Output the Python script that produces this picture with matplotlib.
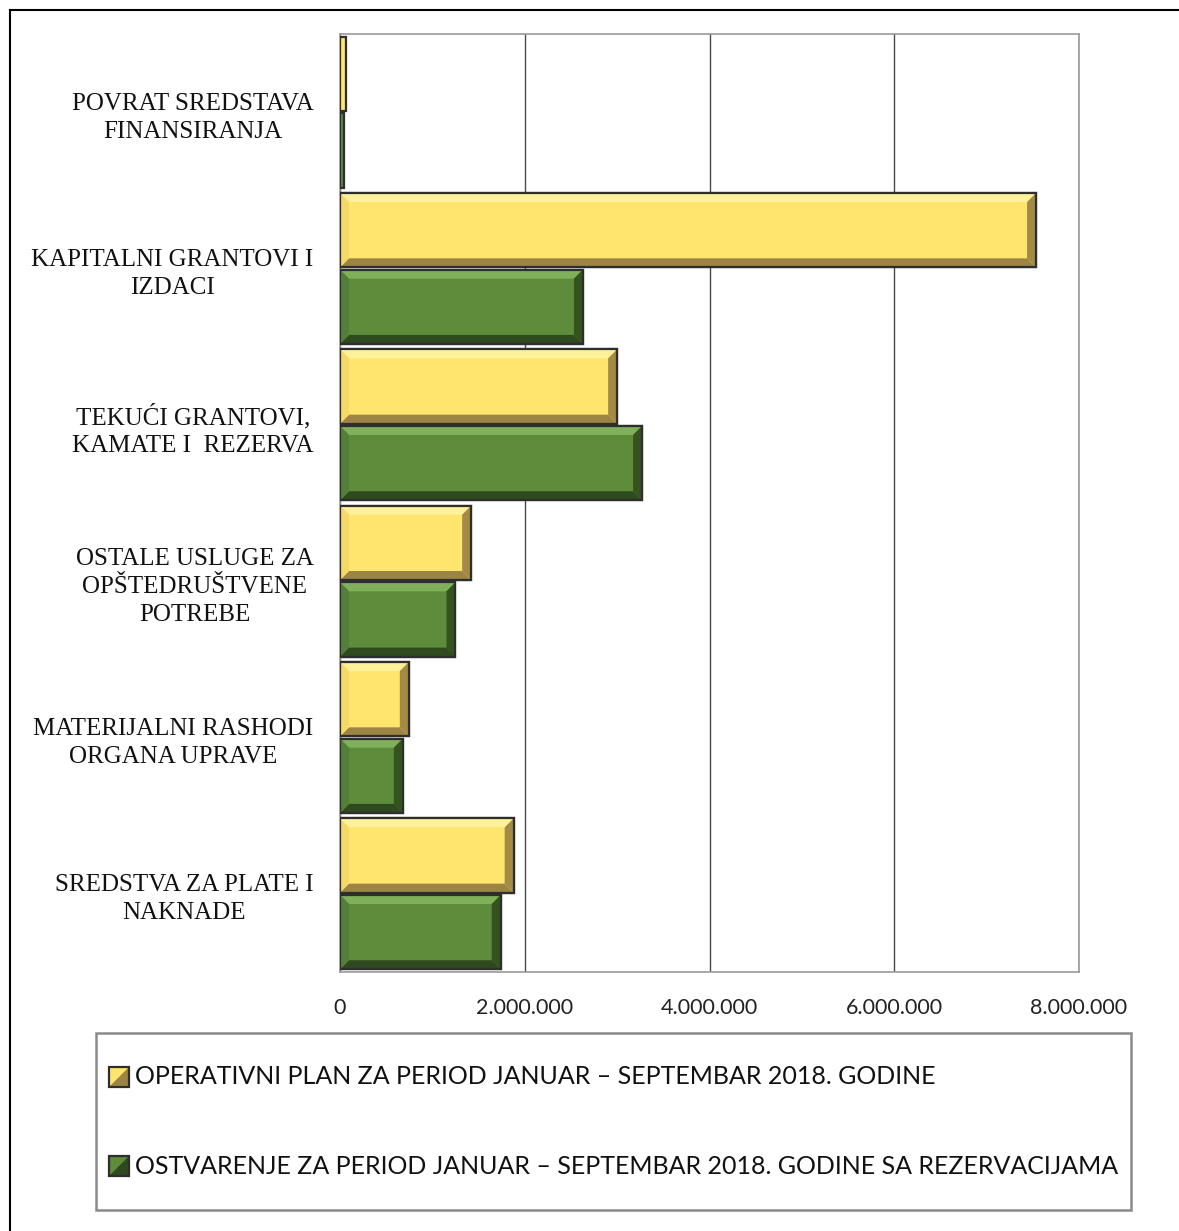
import numpy as np
import matplotlib
matplotlib.use("Agg")
import matplotlib.pyplot as plt
from matplotlib.patches import Polygon, Rectangle
from matplotlib.lines import Line2D
from matplotlib.ticker import FuncFormatter

# categories listed bottom -> top
categories = [
    "SREDSTVA ZA PLATE I\nNAKNADE",
    "MATERIJALNI RASHODI\nORGANA UPRAVE",
    "OSTALE USLUGE ZA\nOPŠTEDRUŠTVENE\nPOTREBE",
    "TEKUĆI GRANTOVI,\nKAMATE I  REZERVA",
    "KAPITALNI GRANTOVI I\nIZDACI",
    "POVRAT SREDSTAVA\nFINANSIRANJA",
]
plan = [1880000, 745000, 1420000, 3000000, 7535000, 65000]
ostvarenje = [1740000, 680000, 1250000, 3270000, 2630000, 40000]

label_plan = "OPERATIVNI PLAN ZA PERIOD JANUAR – SEPTEMBAR 2018. GODINE"
label_ostv = "OSTVARENJE ZA PERIOD JANUAR – SEPTEMBAR 2018. GODINE SA REZERVACIJAMA"
x_ticks = [0, 2000000, 4000000, 6000000, 8000000]

# colour sets: face, top, left, bottom, right
yellow = dict(face="#ffe46e", top="#fff09a", left="#f5d868", bottom="#9c8544", right="#a38b45")
green = dict(face="#5e8c3b", top="#80b05a", left="#52803a", bottom="#2f4a1e", right="#35531f")
edge = "#2e2e2e"

W, H = 1179, 1231
fig = plt.figure(figsize=(W / 100, H / 100), dpi=100)
ax = fig.add_axes([340 / W, 1 - 972 / H, 739 / W, 938 / H])

y = np.arange(len(categories))
bh = 0.475
off = 0.245

bars_p = ax.barh(y + off, plan, height=bh, color=yellow["face"], edgecolor=edge, linewidth=1.6, zorder=3)
bars_o = ax.barh(y - off, ostvarenje, height=bh, color=green["face"], edgecolor=edge, linewidth=1.6, zorder=3)

ax.set_xlim(0, 8000000)
ax.set_ylim(-0.5, len(categories) - 0.5)

# bevel size in data units (~9 px)
px_x = 8000000 / 739
px_y = len(categories) / 938


def bevel(bar, c):
    x0, y0 = bar.get_x(), bar.get_y()
    x1, y1 = x0 + bar.get_width(), y0 + bar.get_height()
    bx = min(9 * px_x, bar.get_width() / 2)
    by = min(9 * px_y, bar.get_height() / 2)
    if bar.get_width() < 14 * px_x:
        return
    pieces = [
        ([(x0, y1), (x1, y1), (x1 - bx, y1 - by), (x0 + bx, y1 - by)], c["top"]),
        ([(x0, y0), (x1, y0), (x1 - bx, y0 + by), (x0 + bx, y0 + by)], c["bottom"]),
        ([(x0, y0), (x0, y1), (x0 + bx, y1 - by), (x0 + bx, y0 + by)], c["left"]),
        ([(x1, y0), (x1, y1), (x1 - bx, y1 - by), (x1 - bx, y0 + by)], c["right"]),
    ]
    for pts, col in pieces:
        ax.add_patch(Polygon(pts, closed=True, facecolor=col, edgecolor="none", zorder=3.5))
    ax.add_patch(Rectangle((x0, y0), x1 - x0, y1 - y0, facecolor="none",
                           edgecolor=edge, linewidth=1.6, zorder=4))


for b in bars_p:
    bevel(b, yellow)
for b in bars_o:
    bevel(b, green)

ax.set_xticks(x_ticks)
ax.xaxis.set_major_formatter(FuncFormatter(lambda v, p: f"{int(v):,}".replace(",", ".")))
ax.set_yticks(y)
ax.set_yticklabels(categories, fontfamily="Liberation Serif", fontsize=18,
                   multialignment="center", color="#111111", linespacing=1.35)
ax.tick_params(axis="y", length=0, pad=19)
ax.tick_params(axis="x", length=0, pad=19, labelsize=15.5, labelcolor="#222222")
for lab in ax.get_xticklabels():
    lab.set_fontfamily("Lato")

ax.grid(axis="x", color="#4a4a4a", linewidth=1.0, zorder=0)
for s in ax.spines.values():
    s.set_color("#9a9a9a")
    s.set_linewidth(1.2)

# page border (left and top edges)
fig.add_artist(Line2D([10 / W, 10 / W], [0, 1 - 10 / H], color="black", linewidth=1.5))
fig.add_artist(Line2D([10 / W, 1], [1 - 10 / H, 1 - 10 / H], color="black", linewidth=1.5))

# legend box
fig.add_artist(Rectangle((96 / W, 1 - 1210 / H), (1131 - 96) / W, (1210 - 1033) / H,
                         transform=fig.transFigure, facecolor="none",
                         edgecolor="#8a8a8a", linewidth=1.8))


def legend_entry(yc, c, text):
    s = 20
    x0 = 109
    yb = yc + s / 2
    fx = lambda px: px / W
    fy = lambda py: 1 - py / H
    fig.add_artist(Rectangle((fx(x0), fy(yb)), s / W, s / H, transform=fig.transFigure,
                             facecolor=c["face"], edgecolor="none"))
    fig.add_artist(Polygon([(fx(x0 + s), fy(yb)), (fx(x0 + s), fy(yb - s)), (fx(x0), fy(yb))],
                           closed=True, transform=fig.transFigure,
                           facecolor=c["bottom"], edgecolor="none"))
    fig.add_artist(Rectangle((fx(x0), fy(yb)), s / W, s / H, transform=fig.transFigure,
                             facecolor="none", edgecolor=edge, linewidth=1.6))
    fig.text(fx(x0 + s + 6), fy(yc), text, ha="left", va="center",
             fontfamily="Lato", fontsize=18, color="#111111")


legend_entry(1077, yellow, label_plan)
legend_entry(1166, green, label_ostv)

fig.savefig("out.png", dpi=100)
